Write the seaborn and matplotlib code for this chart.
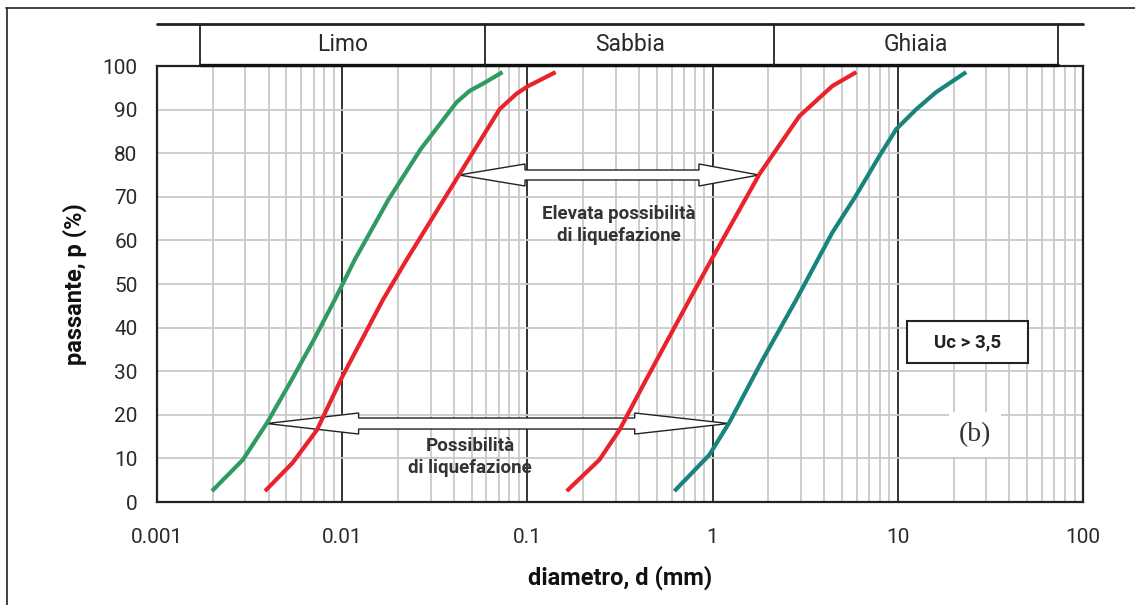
import numpy as np
import pandas as pd
import matplotlib
matplotlib.use("Agg")
import matplotlib.pyplot as plt
from matplotlib.patches import Polygon, Rectangle
from matplotlib.lines import Line2D
from matplotlib.ticker import LogLocator, FixedLocator, NullFormatter
import seaborn as sns

# ---------------- data ----------------
green_d = [0.00198, 0.00291, 0.00392, 0.00522, 0.00703, 0.00912, 0.0117, 0.0178, 0.0265, 0.0415, 0.0488, 0.0573, 0.0734]
green_p = [2.5, 9.7, 18.1, 27.3, 37.2, 46.4, 55.6, 69.4, 80.9, 91.7, 94.3, 95.9, 98.6]

red1_d = [0.00383, 0.0054, 0.0073, 0.0100, 0.0166, 0.0223, 0.0430, 0.0708, 0.0871, 0.100, 0.142]
red1_p = [2.5, 9.0, 16.5, 28.7, 46.4, 55.6, 75.2, 90.1, 93.6, 95.3, 98.6]

red2_d = [0.163, 0.245, 0.314, 0.428, 0.600, 0.750, 0.986, 1.79, 2.94, 4.43, 5.97]
red2_p = [2.5, 9.7, 16.5, 27.3, 38.8, 46.4, 55.6, 75.2, 88.5, 95.4, 98.6]

teal_d = [0.622, 0.96, 1.23, 1.86, 2.83, 4.43, 5.89, 7.94, 9.8, 12.6, 16.1, 23.4]
teal_p = [2.5, 10.8, 18.2, 32.6, 46.4, 61.8, 70.0, 79.3, 85.5, 90.1, 94.0, 98.6]

x_ticks = [0.001, 0.01, 0.1, 1, 10, 100]
x_ticklabels = ["0.001", "0.01", "0.1", "1", "10", "100"]
y_ticks = list(range(0, 101, 10))

classes = ["Limo", "Sabbia", "Ghiaia"]
class_bounds = [0.0017, 0.059, 2.15, 73]

arrow_high_level = 75   # Elevata possibilità
arrow_low_level = 18    # Possibilità

# ---------------- style ----------------
sns.set_style("white")
plt.rcParams["font.family"] = ["Roboto", "DejaVu Sans"]
bold_family = ["Roboto", "DejaVu Sans"]

colors = {"green": "#2f9a62", "red1": "#e8232b", "red2": "#e8232b", "teal": "#17847e"}

df = pd.concat([
    pd.DataFrame({"d": green_d, "p": green_p, "curve": "green"}),
    pd.DataFrame({"d": red1_d, "p": red1_p, "curve": "red1"}),
    pd.DataFrame({"d": red2_d, "p": red2_p, "curve": "red2"}),
    pd.DataFrame({"d": teal_d, "p": teal_p, "curve": "teal"}),
], ignore_index=True)

W, H = 1135, 605
fig = plt.figure(figsize=(W / 100, H / 100), dpi=100)
ax_l, ax_b, ax_w, ax_h = 157 / W, 1 - 502 / H, 926 / W, 436 / H
ax = fig.add_axes([ax_l, ax_b, ax_w, ax_h])

ax.set_xscale("log")
ax.set_xlim(1e-3, 1e2)
ax.set_ylim(0, 100)

sns.lineplot(data=df, x="d", y="p", hue="curve", palette=colors, units="curve",
             estimator=None, sort=False, lw=3.0, legend=False, ax=ax, zorder=5,
             solid_joinstyle="round", solid_capstyle="butt")

# grid
ax.xaxis.set_major_locator(FixedLocator(x_ticks))
ax.set_xticklabels(x_ticklabels)
ax.xaxis.set_minor_locator(LogLocator(base=10, subs=np.arange(2, 10)))
ax.xaxis.set_minor_formatter(NullFormatter())
ax.set_yticks(y_ticks)
ax.grid(which="minor", axis="x", color="#c9c9c9", lw=1.3, zorder=0)
ax.grid(which="major", axis="y", color="#c9c9c9", lw=1.3, zorder=0)
ax.grid(which="major", axis="x", color="#111111", lw=1.2, zorder=1)
ax.set_axisbelow(True)
for s in ax.spines.values():
    s.set_color("#222222")
    s.set_linewidth(1.6)
ax.tick_params(axis="both", which="both", length=0)
ax.tick_params(axis="x", pad=19, labelsize=15, labelcolor="#2a2a2a")
ax.tick_params(axis="y", pad=14, labelsize=15, labelcolor="#2a2a2a")

ax.set_xlabel("diametro, d (mm)", fontsize=17, fontweight="bold", family=bold_family, color="#111")
ax.set_ylabel("passante, p (%)", fontsize=17, fontweight="bold", family=bold_family, color="#111")
ax.xaxis.set_label_coords(0.5, -(578 - 502) / 436)
ax.yaxis.set_label_coords(-(157 - 75) / 926, 0.5)
ax.xaxis.label.set_va("center")
ax.yaxis.label.set_va("center")


# arrows (tips where the curves cross the level)
def level_x(d, p, level):
    return 10 ** np.interp(level, p, np.log10(d))


def darrow(x0, x1, y, hl0, hl1, sh, hh):
    fx0 = (np.log10(x0) + 3) / 5
    fx1 = (np.log10(x1) + 3) / 5
    fy = y / 100
    hl0 /= 926; hl1 /= 926; sh /= 436; hh /= 436
    verts = [(fx0, fy), (fx0 + hl0, fy + hh), (fx0 + hl0, fy + sh), (fx1 - hl1, fy + sh),
             (fx1 - hl1, fy + hh), (fx1, fy), (fx1 - hl1, fy - hh), (fx1 - hl1, fy - sh),
             (fx0 + hl0, fy - sh), (fx0 + hl0, fy - hh)]
    ax.add_patch(Polygon(verts, closed=True, transform=ax.transAxes, facecolor="white",
                         edgecolor="#222222", lw=1.0, zorder=3))


darrow(level_x(red1_d, red1_p, arrow_high_level), level_x(red2_d, red2_p, arrow_high_level),
       arrow_high_level, 66, 60, 5, 11)
darrow(level_x(green_d, green_p, arrow_low_level), level_x(teal_d, teal_p, arrow_low_level),
       arrow_low_level, 92, 94, 5.5, 10.5)

ax.text(0.31, 63.5, "Elevata possibilità\ndi liquefazione", ha="center", va="center",
        fontsize=13.5, fontweight="bold", family=bold_family, color="#333333",
        linespacing=1.3, zorder=4)
ax.text(0.049, 10.3, "Possibilità\ndi liquefazione", ha="center", va="center",
        fontsize=13.5, fontweight="bold", family=bold_family, color="#333333",
        linespacing=1.3, zorder=4)

ax.add_patch(Rectangle((11.2, 31.9), 50.5 - 11.2, 41.5 - 31.9, facecolor="white",
                       edgecolor="#222222", lw=1.5, zorder=6))
ax.text(np.sqrt(11.2 * 50.5), 36.7, "Uc > 3,5", ha="center", va="center", fontsize=13.5,
        fontweight="bold", family=bold_family, color="#222222", zorder=7)
ax.text(26.0, 15.5, "(b)", ha="center", va="center", fontsize=20,
        family=["Liberation Serif", "DejaVu Serif"], color="#333333", zorder=6,
        bbox=dict(boxstyle="square,pad=0.35", facecolor="white", edgecolor="none"))

# header band
hax = fig.add_axes([ax_l, 1 - 65 / H, ax_w, 41 / H])
hax.set_xscale("log")
hax.set_xlim(1e-3, 1e2)
hax.set_ylim(0, 1)
hax.axis("off")
hax.axhline(1, color="#222222", lw=2.0, clip_on=False)
hax.plot([class_bounds[0], class_bounds[-1]], [0, 0], color="#111111", lw=2.4, clip_on=False)
for b in class_bounds:
    hax.plot([b, b], [0, 1], color="#222222", lw=1.3, clip_on=False)
for name, a, b in zip(classes, class_bounds[:-1], class_bounds[1:]):
    hax.text(np.sqrt(a * b), 0.5, name, ha="center", va="center", fontsize=16.5, color="#2a2a2a")

# outer frame (top and left)
fig.add_artist(Line2D([6 / W, 1.0], [1 - 8 / H, 1 - 8 / H], color="#333333", lw=1.3))
fig.add_artist(Line2D([7 / W, 7 / W], [0.0, 1 - 8 / H], color="#333333", lw=1.3))

fig.savefig("out.png", dpi=100)
